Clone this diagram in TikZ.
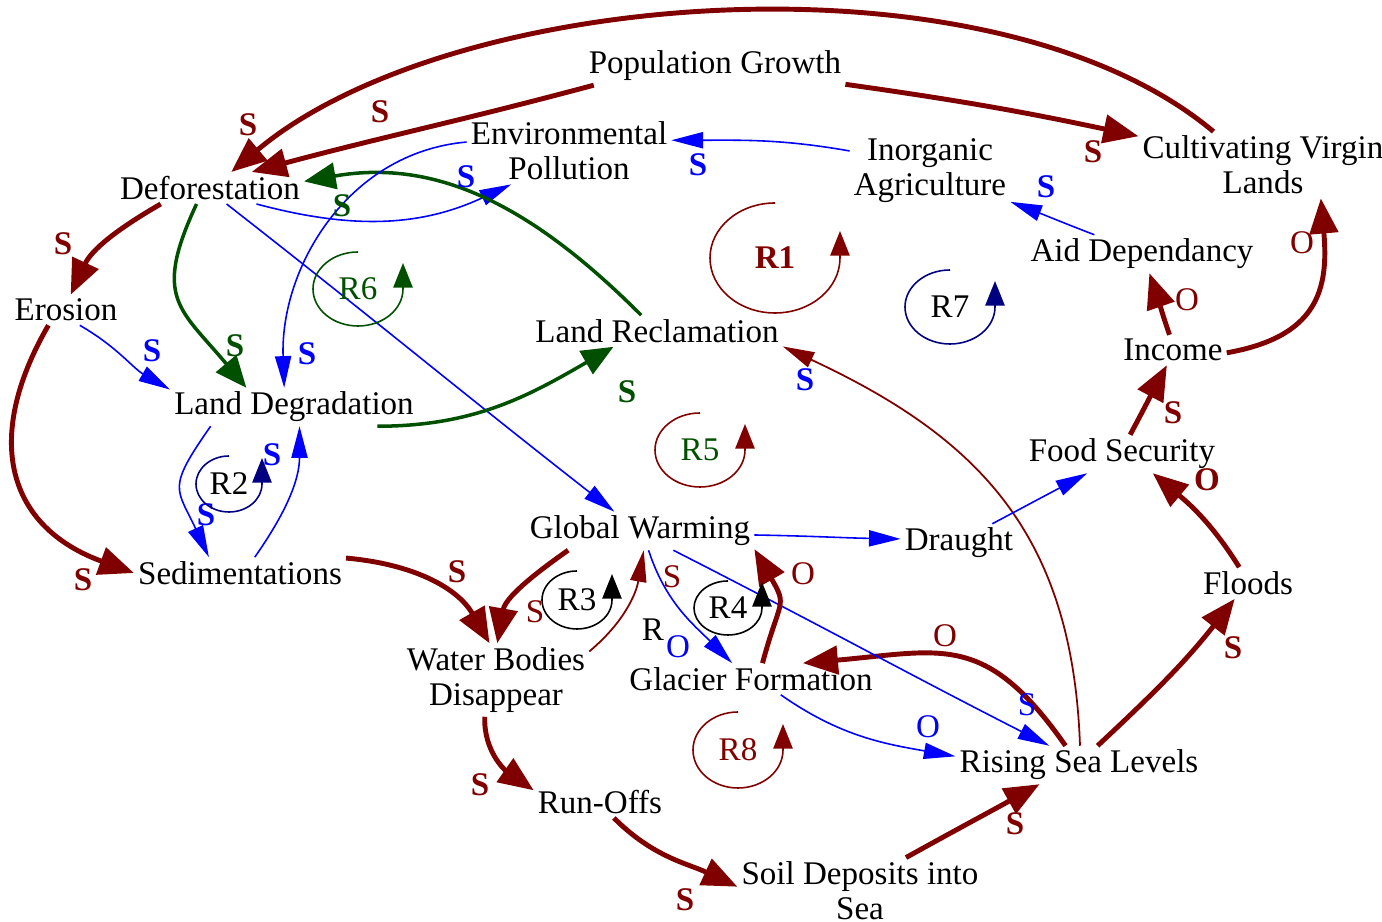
\documentclass[tikz,border=0pt]{standalone}
\usepackage{fontspec}
\setmainfont{Liberation Serif}
\usetikzlibrary{arrows.meta}
\definecolor{darkred}{RGB}{128,0,0}
\definecolor{dkgreen}{RGB}{0,80,0}
\definecolor{navy}{RGB}{0,0,128}
\begin{document}
\begin{tikzpicture}[x=1mm,y=1mm]
\tikzstyle{every node}+=[inner sep=1pt, font=\fontsize{9.4}{10}\selectfont, align=center]
\tikzstyle{thickred}=[draw=darkred, line width=1.4pt, -{Triangle[length=10pt,width=8pt]}]
\tikzstyle{thinred}=[draw=darkred, line width=0.5pt, -{Triangle[length=9pt,width=4.6pt]}]
\tikzstyle{thinblue}=[draw=blue, line width=0.45pt, -{Triangle[length=9pt,width=4.6pt]}]
\tikzstyle{thickgreen}=[draw=dkgreen, line width=1pt, -{Triangle[length=9pt,width=7.5pt]}]
\tikzstyle{loopmark}=[line width=0.45pt, -{Triangle[length=7pt,width=5.5pt]}]
\tikzstyle{pol}=[inner sep=0pt]
\useasboundingbox (0,0) rectangle (138.2,-92.2);
% variables
\node (popg) at (71.5,-6.6) {Population Growth};
\node (defor) at (21.0,-18.8) {Deforestation};
\node (envpol) at (56.9,-15.1) {Environmental\\Pollution};
\node (inorg) at (93.0,-17.1) {Inorganic\\Agriculture};
\node (cultiv) at (126.3,-16.5) {Cultivating Virgin\\Lands};
\node (erosion) at (6.6,-31.0) {Erosion};
\node (landdeg) at (29.4,-40.7) {Land Degradation};
\node (landrec) at (65.7,-33.1) {Land Reclamation};
\node (aid) at (114.2,-25.4) {Aid Dependancy};
\node (income) at (117.3,-35.0) {Income};
\node (food) at (112.2,-45.4) {Food Security};
\node (gw) at (64.0,-53.1) {Global Warming};
\node (draught) at (95.9,-54.3) {Draught};
\node (sedim) at (24.0,-57.3) {Sedimentations};
\node (floods) at (124.8,-58.3) {Floods};
\node (water) at (49.6,-68.0) {Water Bodies\\Disappear};
\node (glacier) at (75.1,-67.9) {Glacier Formation};
\node (rising) at (107.9,-76.5) {Rising Sea Levels};
\node (runoffs) at (60.0,-80.2) {Run-Offs};
\node (soil) at (86.0,-89.1) {Soil Deposits into\\Sea};
% links
\draw[thickred] (popg.189) to[out=195,in=15] (defor.21);
\draw[thickred] (cultiv.146) to[out=140,in=40,looseness=0.75] (defor.37);
\draw[thickred] (popg.-8) to[out=-8,in=168] (cultiv.167);
\draw[thinblue] (inorg.166) to[out=170,in=0] (envpol.6);
\draw[thinblue] (aid.158) to[out=159,in=-21] (inorg.-21);
\draw[thickred] (income.103) to[out=109,in=-71] (aid.-69);
\draw[thickred] (income.-3) to[out=10,in=-85,looseness=1.3] (cultiv.-30);
\draw[thickred] (food.67) to[out=62,in=242] (income.248);
\draw[thickred] (floods.119) to[out=122,in=-40] (food.-32);
\draw[thickred] (rising.46) to[out=43,in=232] (floods.230);
\draw[thinred] (rising.87) to[out=92,in=-25,looseness=1.1] (landrec.-7);
\draw[thickred] (rising.125) to[out=125,in=5,looseness=1.3] (glacier.17);
\draw[thinblue] (gw.-30) to[out=-27,in=153] (rising.147);
\draw[thinblue] (glacier.-28) to[out=-35,in=170] (rising.176);
\draw[thickred] (soil.36) to[out=29,in=209] (rising.206);
\draw[thickred] (runoffs.-49) to[out=-45,in=155] (soil.178);
\draw[thickred] (water.253) to[out=-92,in=145] (runoffs.170);
\draw[thickred] (sedim.8) to[out=-5,in=120] (water.100);
\draw[thickred] (gw.195) to[out=215,in=80] (water.88);
\draw[thinred] (water.17) to[out=40,in=-100] (gw.-79);
\draw[thinblue] (gw.-66) to[out=-72,in=135] (glacier.140);
\draw[thickred] (glacier.54) to[out=75,in=-60,looseness=1.5] (gw.-9);
\draw[thinblue] (gw.-2) to[out=-1,in=179] (draught.176);
\draw[thinblue] (draught.30) to[out=28,in=208] (food.209);
\draw[thinblue] (defor.-44) to[out=-38,in=142] (gw.143);
\draw[thinblue] (defor.-19) to[out=-15,in=205] (envpol.210);
\draw[thickgreen] (landrec.135) to[out=135,in=10] (defor.4);
\draw[thinblue] (envpol.175) to[out=185,in=92] (landdeg.117);
\draw[thickgreen] (defor.230) to[out=245,in=130,looseness=1.4] (landdeg.158);
\draw[thinblue] (erosion.-48) to[out=-30,in=150] (landdeg.172);
\draw[thickred] (defor.198) to[out=210,in=65] (erosion.73);
\draw[thickred] (erosion.221) to[out=240,in=160,looseness=1.3] (sedim.180);
\draw[thickgreen] (landdeg.-13) to[out=0,in=210] (landrec.200);
\draw[thinblue] (landdeg.193) to[out=235,in=115,looseness=1.5] (sedim.153);
\draw[thinblue] (sedim.47) to[out=55,in=-90] (landdeg.-74);
% polarities
\node[pol, text=darkred] (p1) at (24.8,-12.5) {\textbf{S}};
\node[pol, text=darkred] (p2) at (38.0,-11.2) {\textbf{S}};
\node[pol, text=darkred] (p3) at (109.3,-15.2) {\textbf{S}};
\node[pol, text=blue] (p4) at (69.8,-16.5) {\textbf{S}};
\node[pol, text=blue] (p5) at (104.6,-18.7) {\textbf{S}};
\node[pol, text=darkred] (p6) at (118.7,-30.0) {O};
\node[pol, text=darkred] (p7) at (130.2,-24.3) {O};
\node[pol, text=darkred] (p8) at (117.3,-41.3) {\textbf{S}};
\node[pol, text=darkred] (p9) at (120.7,-48.0) {\textbf{O}};
\node[pol, text=darkred] (p10) at (123.3,-64.8) {\textbf{S}};
\node[pol, text=blue] (p11) at (80.5,-38.0) {\textbf{S}};
\node[pol, text=darkred] (p12) at (94.5,-63.6) {O};
\node[pol, text=blue] (p13) at (102.7,-70.5) {S};
\node[pol, text=blue] (p14) at (92.8,-72.7) {O};
\node[pol, text=darkred] (p15) at (101.5,-82.4) {\textbf{S}};
\node[pol, text=darkred] (p16) at (68.5,-90.0) {\textbf{S}};
\node[pol, text=darkred] (p17) at (48.0,-78.5) {\textbf{S}};
\node[pol, text=darkred] (p18) at (45.7,-57.2) {\textbf{S}};
\node[pol, text=darkred] (p19) at (53.5,-61.2) {S};
\node[pol, text=darkred] (p20) at (67.2,-57.7) {S};
\node[pol, text=blue] (p21) at (67.8,-64.7) {O};
\node[pol] (p22) at (65.3,-63.0) {R};
\node[pol, text=darkred] (p23) at (80.3,-57.4) {O};
\node[pol, text=blue] (p24) at (46.6,-17.7) {\textbf{S}};
\node[pol, text=dkgreen] (p25) at (34.2,-20.6) {\textbf{S}};
\node[pol, text=blue] (p26) at (30.7,-35.4) {\textbf{S}};
\node[pol, text=dkgreen] (p27) at (23.5,-34.6) {\textbf{S}};
\node[pol, text=blue] (p28) at (15.2,-35.1) {\textbf{S}};
\node[pol, text=darkred] (p29) at (6.3,-24.4) {\textbf{S}};
\node[pol, text=darkred] (p30) at (8.3,-58.0) {\textbf{S}};
\node[pol, text=dkgreen] (p31) at (62.7,-39.2) {\textbf{S}};
\node[pol, text=blue] (p32) at (20.6,-51.5) {\textbf{S}};
\node[pol, text=blue] (p33) at (27.2,-45.5) {\textbf{S}};
% loops
\node[text=darkred] (r1) at (77.5,-25.8) {\textbf{R1}};
\draw[loopmark, darkred] (r1.center) ++(0,5.5) arc[start angle=90, end angle=360, x radius=6.5, y radius=5.5] -- ++(0,2.7);
\node (r7) at (95.0,-30.7) {R7};
\draw[loopmark, navy] (r7.center) ++(0,3.7) arc[start angle=90, end angle=360, x radius=4.5, y radius=3.7] -- ++(0,2.6);
\node[text=dkgreen] (r6) at (35.8,-28.9) {R6};
\draw[loopmark, dkgreen] (r6.center) ++(0,3.7) arc[start angle=90, end angle=360, x radius=4.5, y radius=3.7] -- ++(0,2.6);
\node[text=dkgreen] (r5) at (70.0,-45.0) {R5};
\draw[loopmark, darkred] (r5.center) ++(0,3.7) arc[start angle=90, end angle=360, x radius=4.5, y radius=3.7] -- ++(0,2.6);
\node (r2) at (22.9,-48.4) {R2};
\draw[loopmark, navy] (r2.center) ++(0,2.8) arc[start angle=90, end angle=360, x radius=3.3, y radius=2.8] -- ++(0,2.6);
\node (r3) at (57.7,-60.0) {R3};
\draw[loopmark, black] (r3.center) ++(0,2.9) arc[start angle=90, end angle=360, x radius=3.5, y radius=2.9] -- ++(0,2.6);
\node (r4) at (72.8,-60.8) {R4};
\draw[loopmark, black] (r4.center) ++(0,2.7) arc[start angle=90, end angle=360, x radius=3.4, y radius=2.7] -- ++(0,2.6);
\node[text=darkred] (r8) at (73.8,-75.0) {R8};
\draw[loopmark, darkred] (r8.center) ++(0,3.8) arc[start angle=90, end angle=360, x radius=4.5, y radius=3.8] -- ++(0,2.6);
\end{tikzpicture}
\end{document}
